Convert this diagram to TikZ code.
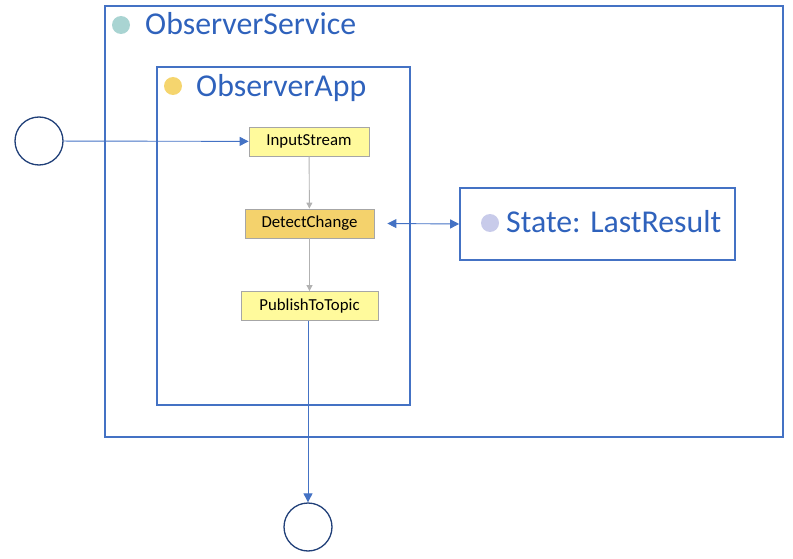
\documentclass[tikz,border=0pt]{standalone}
\usepackage{fontspec}
\setmainfont{Carlito}
\usepackage{tikz}
\usetikzlibrary{arrows.meta}
\definecolor{boxblue}{HTML}{4472C4}
\definecolor{titleblue}{HTML}{2F62BC}
\definecolor{navy}{HTML}{203F78}
\definecolor{dotteal}{HTML}{A9D4D2}
\definecolor{dotyellow}{HTML}{F5D56E}
\definecolor{dotlilac}{HTML}{C8CBEA}
\definecolor{steplight}{HTML}{FFFA9C}
\definecolor{stepdark}{HTML}{F4D26C}
\tikzset{
  frame/.style={draw=boxblue, line width=1.6pt, inner sep=0pt},
  title/.style={anchor=base west, text=titleblue, inner sep=0pt, font=\fontsize{31.8}{36}\selectfont},
  stepbox/.style={draw=black!35, line width=.8pt, minimum height=29pt, inner sep=0pt, font=\fontsize{16.8}{18}\selectfont},
  endpoint/.style={draw=navy, line width=1.3pt, circle, minimum size=48pt, inner sep=0pt},
  flow/.style={draw=boxblue, line width=.9pt, -{Triangle[length=9pt,width=9pt]}},
  inner/.style={draw=black!30, line width=.9pt, -{Triangle[length=6pt,width=6pt]}}
}
\newcommand{\Dot}[3]{\fill[#3] (#1,#2) circle (9);}

\begin{document}
\begin{tikzpicture}[x=1pt,y=-1pt]
    \useasboundingbox (0,0) rectangle (793,559);

    % containers
    \node[frame, minimum width=678pt, minimum height=431pt] (service) at (444,221.5) {};
    \Dot{121}{25}{dotteal}
    \node[title] (serviceTitle) at (145,35) {ObserverService};

    \node[frame, minimum width=253pt, minimum height=338pt] (app) at (283.5,236) {};
    \Dot{173}{86}{dotyellow}
    \node[title] (appTitle) at (196,97) {ObserverApp};

    \node[frame, minimum width=275pt, minimum height=72pt] (state) at (597.5,224) {};
    \Dot{490}{223}{dotlilac}
    \node[title] (stateTitle) at (506,233) {State: LastResult};

    % steps
    \node[stepbox, fill=steplight, minimum width=120pt] (input) at (309,141.5) {InputStream};
    \node[stepbox, fill=stepdark, minimum width=129pt] (detect) at (309.5,223.5) {DetectChange};
    \node[stepbox, fill=steplight, minimum width=137pt] (publish) at (309.5,306) {PublishToTopic};

    % end points
    \node[endpoint] (source) at (39,141) {};
    \node[endpoint] (sink) at (308,527) {};

    \draw[flow] (source) -- (input);
    \draw[inner] (input) -- (detect);
    \draw[inner] (detect) -- (publish);
    \draw[flow] (publish.south -| sink) -- (sink);
    \draw[flow, {Triangle[length=9pt,width=9pt]}-{Triangle[length=9pt,width=9pt]}] ([xshift=13pt]detect.east) -- (state.west);

\end{tikzpicture}
\end{document}
